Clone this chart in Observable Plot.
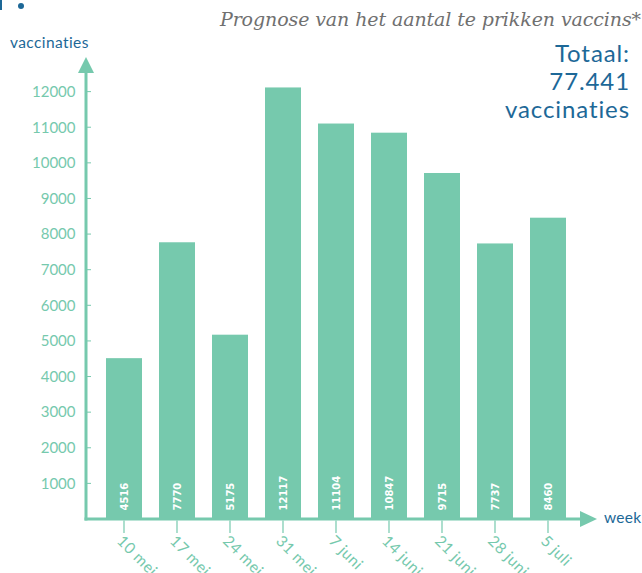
<!DOCTYPE html>
<html><head><meta charset="utf-8">
<script src="https://cdn.jsdelivr.net/npm/d3@7"></script>
<script src="https://cdn.jsdelivr.net/npm/@observablehq/plot@0.6"></script>
<style>
body{margin:0;background:#fff;}
#wrap{position:relative;width:642px;height:573px;overflow:hidden;font-family:Lato,"Noto Sans",sans-serif;}
#wrap svg{position:absolute;left:0;top:0;}
.title{position:absolute;right:1px;top:8px;font:italic 19px "DejaVu Serif",serif;color:#707070;white-space:nowrap;letter-spacing:-0.1px;}
.total{position:absolute;right:12px;top:39px;text-align:right;font-size:24px;color:#1d6897;line-height:28px;letter-spacing:0.9px;}
.ylab{position:absolute;left:10px;top:33px;font-size:15.5px;color:#1d6897;letter-spacing:0.4px;}
.xlab{position:absolute;left:604px;top:508px;font-size:15.5px;color:#1d6897;letter-spacing:0.3px;}
.dot{position:absolute;left:18px;top:3px;width:6px;height:6px;border-radius:3px;background:#1d6897;}
.bar0{position:absolute;left:0;top:0;width:2px;height:10px;background:#1d6897;}
#wrap svg g[aria-label="x-axis tick label"] text{font-size:15.5px;letter-spacing:0.5px;}
</style></head>
<body><div id="wrap">
<div class="bar0"></div><div class="dot"></div>
<div class="title">Prognose van het aantal te prikken vaccins*</div>
<div class="total">Totaal:<br>77.441<br>vaccinaties</div>
<div class="ylab">vaccinaties</div>
<div class="xlab">week</div>
</div>
<script>
const weeks = ["10 mei","17 mei","24 mei","31 mei","7 juni","14 juni","21 juni","28 juni","5 juli"];
const values = [4516, 7770, 5175, 12117, 11104, 10847, 9715, 7737, 8460];
const yTicks = [1000,2000,3000,4000,5000,6000,7000,8000,9000,10000,11000,12000];

const mint = "#76c9ad";
const data = weeks.map((w, i) => ({week: w, value: values[i]}));

const chart = Plot.plot({
  width: 642, height: 573,
  marginLeft: 95, marginRight: 65, marginTop: 56, marginBottom: 54,
  style: {color: mint, fontFamily: "Lato, 'Noto Sans', sans-serif", background: "transparent"},
  x: {domain: weeks, paddingInner: 0.327, paddingOuter: 0.1635, label: null},
  y: {domain: [0, 13000], label: null, axis: null},
  marks: [
    Plot.barY(data, {x: "week", y: "value", fill: mint}),
    Plot.text(data, {x: "week", y: 0, text: d => String(d.value), rotate: -90, dy: -9,
      textAnchor: "start", lineAnchor: "middle", fill: "white", fontWeight: "bold",
      fontSize: 10, fontFamily: "DejaVu Sans", letterSpacing: 0.5}),
    Plot.text(yTicks, {y: d => d, text: d => String(d), frameAnchor: "left", dx: -20,
      textAnchor: "end", lineAnchor: "middle", fill: mint, fontSize: 15, letterSpacing: 0.6}),
    Plot.axisX({tickSize: 0, tickRotate: 45, tickPadding: 18, dx: -5, dy: 1, label: null})
  ]
});
document.getElementById("wrap").appendChild(chart);

// axis lines with arrow heads, inward y ticks and x ticks
const x = chart.scale("x");
const y = chart.scale("y");
const svg = d3.select(chart);
const g = svg.append("g").attr("stroke", mint).attr("fill", mint);
const ax = 86, y0 = y.apply(0);
g.append("line").attr("x1", ax).attr("x2", ax).attr("y1", y0 + 1.5).attr("y2", 70).attr("stroke-width", 3);
g.append("path").attr("stroke", "none").attr("d", `M${ax},57L${ax+8},73L${ax-8},73Z`);
g.append("line").attr("x1", ax - 1.5).attr("x2", 582).attr("y1", y0).attr("y2", y0).attr("stroke-width", 3);
g.append("path").attr("stroke", "none").attr("d", `M597,${y0}L580,${y0-8}L580,${y0+8}Z`);
yTicks.forEach(t => {
  g.append("line").attr("x1", ax).attr("x2", ax + 5).attr("y1", y.apply(t)).attr("y2", y.apply(t)).attr("stroke-width", 1);
});
weeks.forEach(w => {
  const cx = x.apply(w) + x.bandwidth / 2;
  g.append("line").attr("x1", cx).attr("x2", cx).attr("y1", y0 + 1.5).attr("y2", y0 + 14).attr("stroke-width", 1.2);
});
</script>
</body></html>
